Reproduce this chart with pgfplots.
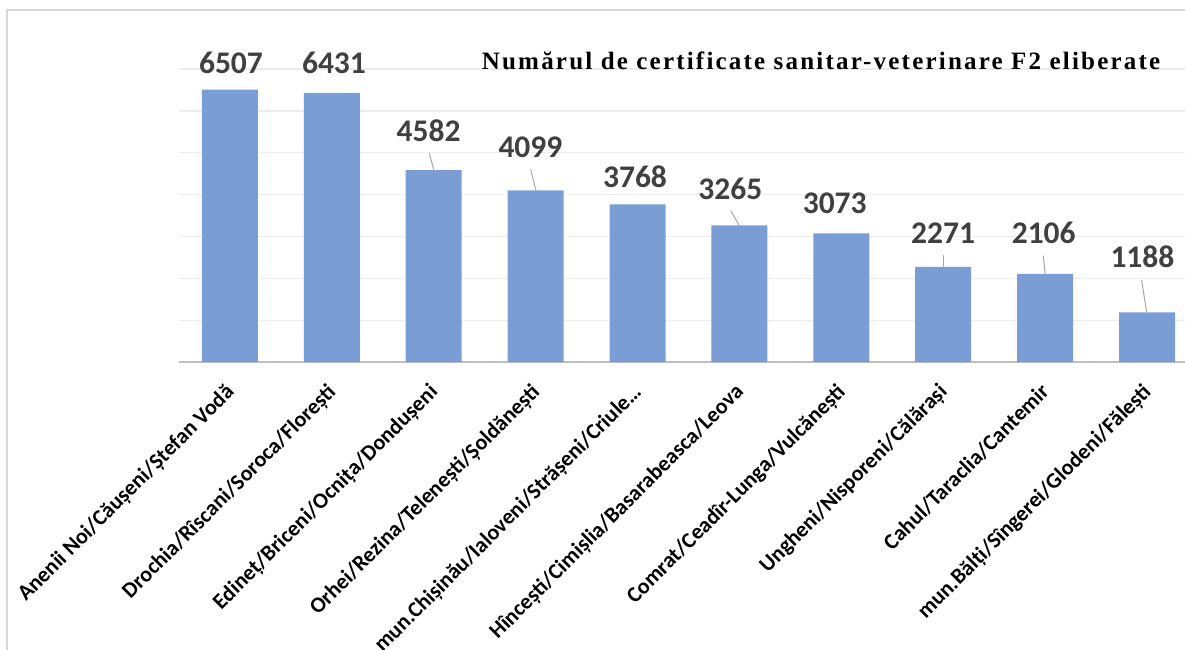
\documentclass[border=0pt]{standalone}
\usepackage{fontspec}
\setmainfont{Carlito}
\newfontfamily\titlefont[LetterSpace=8.8]{Liberation Serif}
\usepackage{pgfplots}
\pgfplotsset{compat=1.18}
\definecolor{barblue}{RGB}{123,157,214}
\definecolor{lblgray}{RGB}{64,64,64}
\definecolor{gridgray}{RGB}{236,236,236}
\definecolor{axgray}{RGB}{191,191,191}
\definecolor{framegray}{RGB}{217,217,217}
\definecolor{leadgray}{RGB}{166,166,166}
\pgfplotstableread{
x lab
0 6507
1 6431
2 4582
3 4099
4 3768
5 3265
6 3073
7 2271
8 2106
9 1188
}\bars
\pgfplotstableread{
x y lab
0.010 7136 6507
1.021 7136 6431
1.950 5526 4582
2.949 5129 4099
3.975 4436 3768
4.910 4133 3265
5.935 3791 3073
6.998 3087 2271
7.986 3075 2106
8.955 2516 1188
}\labels
\begin{document}
\begin{tikzpicture}
\path[use as bounding box] (0,0) rectangle (1185bp,-650bp);
\draw[framegray, line width=1.5bp] (7bp,-655bp) -- (7bp,-10bp) -- (1190bp,-10bp);
\begin{axis}[
  at={(179bp,-362bp)}, anchor=south west,
  scale only axis, width=1006bp, height=293bp,
  xmin=-0.5, xmax=9.372, ymin=0, ymax=7000,
  clip=false,
  separate axis lines,
  axis x line*=bottom, axis y line*=left,
  y axis line style={draw=none},
  x axis line style={draw=axgray, line width=2.5bp},
  ytick={1000,2000,...,7000}, yticklabels={},
  ymajorgrids, grid style={draw=gridgray, line width=1.3bp},
  major tick length=0pt,
  xtick={0,...,9},
  xticklabels={{Anenii Noi/Căușeni/Ștefan Vodă},{Drochia/Rîscani/Soroca/Florești},{Edineț/Briceni/Ocnița/Dondușeni},{Orhei/Rezina/Telenești/Șoldănești},{mun.Chișinău/Ialoveni/Strășeni/Criule…},{Hîncești/Cimișlia/Basarabeasca/Leova},{Comrat/Ceadîr-Lunga/Vulcănești},{Ungheni/Nisporeni/Călărași},{Cahul/Taraclia/Cantemir},{mun.Bălți/Sîngerei/Glodeni/Fălești}},
  xticklabel style={xshift=-6bp, yshift=-20bp, rotate=45, anchor=north east, inner sep=0pt, font=\fontsize{22bp}{26bp}\selectfont\bfseries, text=black},
]
\addplot[ybar, bar width=56bp, fill=barblue, draw=none] table[x=x, y=lab] {\bars};
\addplot[leadgray, line width=1bp, mark=none] coordinates {(1.956,4986) (2.002,4582)};
\addplot[leadgray, line width=1bp, mark=none] coordinates {(2.951,4604) (3.003,4099)};
\addplot[leadgray, line width=1bp, mark=none] coordinates {(4.914,3615) (4.998,3265)};
\addplot[leadgray, line width=1bp, mark=none] coordinates {(7.000,2556) (7.000,2271)};
\addplot[leadgray, line width=1bp, mark=none] coordinates {(7.982,2540) (8.000,2106)};
\addplot[leadgray, line width=1bp, mark=none] coordinates {(8.947,1959) (8.996,1188)};
\addplot[draw=none, mark=none, nodes near coords, point meta=explicit symbolic,
  nodes near coords style={anchor=center, inner sep=0pt, font=\fontsize{31.5bp}{36bp}\selectfont\bfseries, text=lblgray}]
  table[x=x, y=y, meta=lab] {\labels};
\end{axis}
\node[anchor=base west, inner sep=0pt] at (481.7bp,-69bp) {\titlefont\bfseries\fontsize{25bp}{30bp}\selectfont Numărul de certificate sanitar-veterinare F2 eliberate};
\end{tikzpicture}
\end{document}
